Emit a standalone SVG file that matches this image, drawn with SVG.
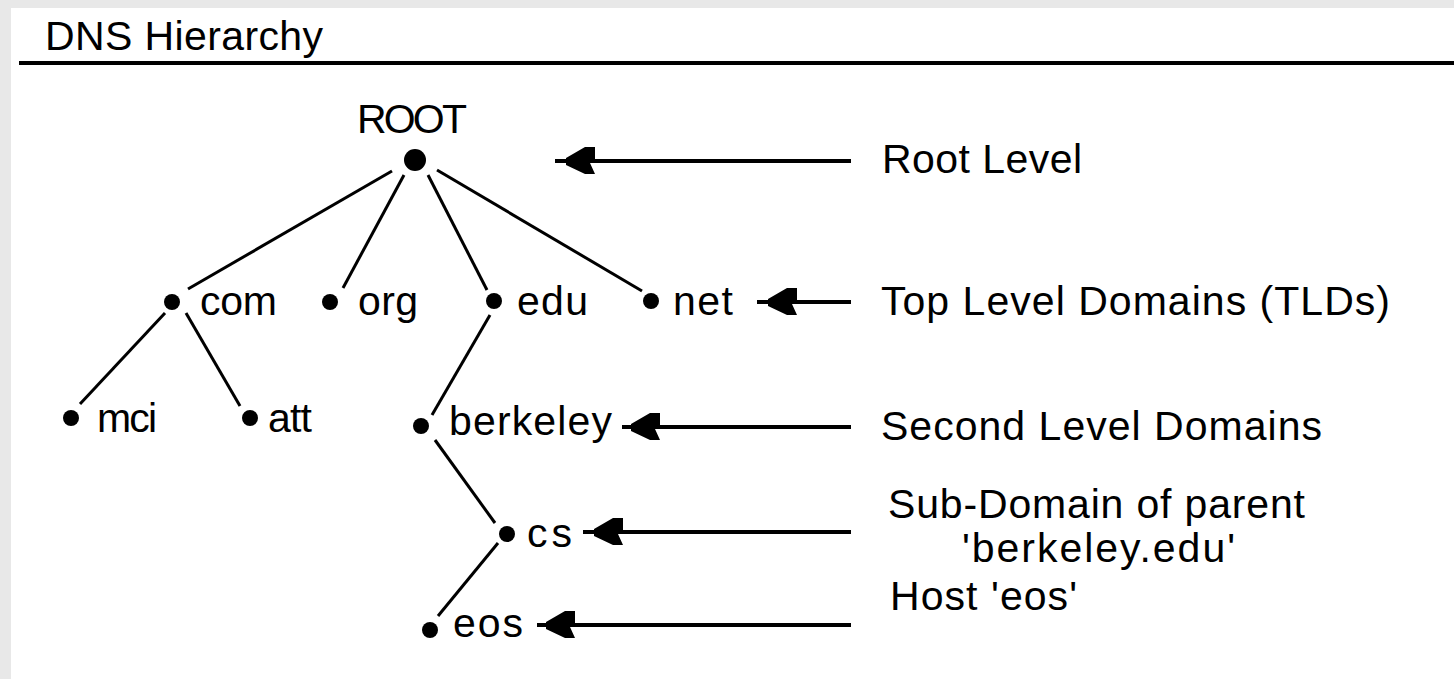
<svg xmlns="http://www.w3.org/2000/svg" xmlns:xlink="http://www.w3.org/1999/xlink" width="1454" height="679" viewBox="0 0 1454 679">
<style>
text{font-family:"Liberation Sans",Arial,sans-serif;font-size:41px;fill:#000}
.edge{stroke:#000;stroke-width:3;fill:none}
.arrow{stroke:#000;stroke-width:4;fill:none}
.dot{fill:#000}
</style>
<defs>
<path id="head" d="M9,-3 L28,-14 L38,-14 L38,-1 L33,2 L38,13 L28,13 L9,4 Z" fill="#000"/>
</defs>
<rect x="0" y="0" width="1454" height="679" fill="#e8e8e8"/>
<rect x="11" y="8" width="1443" height="671" fill="#fff"/>
<text x="45" y="50" textLength="278">DNS Hierarchy</text>
<rect x="19" y="61" width="1435" height="4" fill="#000"/>

<g id="connectors">
<line class="edge" x1="392" y1="171" x2="188" y2="289"/>
<line class="edge" x1="404" y1="175" x2="343" y2="288"/>
<line class="edge" x1="428" y1="175" x2="487" y2="290"/>
<line class="edge" x1="437" y1="170" x2="642" y2="291"/>
<line class="edge" x1="165" y1="313" x2="80" y2="404"/>
<line class="edge" x1="186" y1="313" x2="240" y2="406"/>
<line class="edge" x1="490" y1="315" x2="432" y2="415"/>
<line class="edge" x1="435" y1="440" x2="495" y2="523"/>
<line class="edge" x1="498" y1="543" x2="438" y2="616"/>
<line class="arrow" x1="555" y1="161" x2="851" y2="161"/>
<use xlink:href="#head" x="557" y="161"/>
<line class="arrow" x1="757" y1="302" x2="851" y2="302"/>
<use xlink:href="#head" x="759" y="302"/>
<line class="arrow" x1="622" y1="427" x2="851" y2="427"/>
<use xlink:href="#head" x="622" y="427"/>
<line class="arrow" x1="583" y1="532" x2="851" y2="532"/>
<use xlink:href="#head" x="585" y="532"/>
<line class="arrow" x1="537" y1="625" x2="851" y2="625"/>
<use xlink:href="#head" x="537" y="625"/>
</g>

<g id="root"><circle class="dot" cx="415" cy="160" r="11"/><text x="357" y="133" textLength="110">ROOT</text></g>
<g id="com"><circle class="dot" cx="172" cy="302" r="8"/><text x="200" y="315" textLength="77">com</text></g>
<g id="org"><circle class="dot" cx="330" cy="302" r="8"/><text x="358" y="315" textLength="60">org</text></g>
<g id="edu"><circle class="dot" cx="494" cy="301" r="8"/><text x="517" y="315" textLength="71">edu</text></g>
<g id="net"><circle class="dot" cx="651" cy="301" r="8"/><text x="673" y="315" textLength="60">net</text></g>
<g id="mci"><circle class="dot" cx="71" cy="418" r="8"/><text x="97" y="432" textLength="60">mci</text></g>
<g id="att"><circle class="dot" cx="250" cy="418" r="8"/><text x="268" y="432" textLength="44">att</text></g>
<g id="berkeley"><circle class="dot" cx="421" cy="426" r="8"/><text x="449" y="435" textLength="163">berkeley</text></g>
<g id="cs"><circle class="dot" cx="507" cy="534" r="8"/><text x="527" y="547" textLength="45">cs</text></g>
<g id="eos"><circle class="dot" cx="430" cy="630" r="8"/><text x="453" y="637" textLength="70">eos</text></g>

<g id="labels">
<text x="882" y="173" textLength="200">Root Level</text>
<text x="881" y="315" textLength="509">Top Level Domains (TLDs)</text>
<text x="881" y="440" textLength="441">Second Level Domains</text>
<text x="888" y="518" textLength="417">Sub-Domain of parent</text>
<text x="962" y="562" textLength="273">'berkeley.edu'</text>
<text x="890" y="610" textLength="187">Host 'eos'</text>
</g>
</svg>
